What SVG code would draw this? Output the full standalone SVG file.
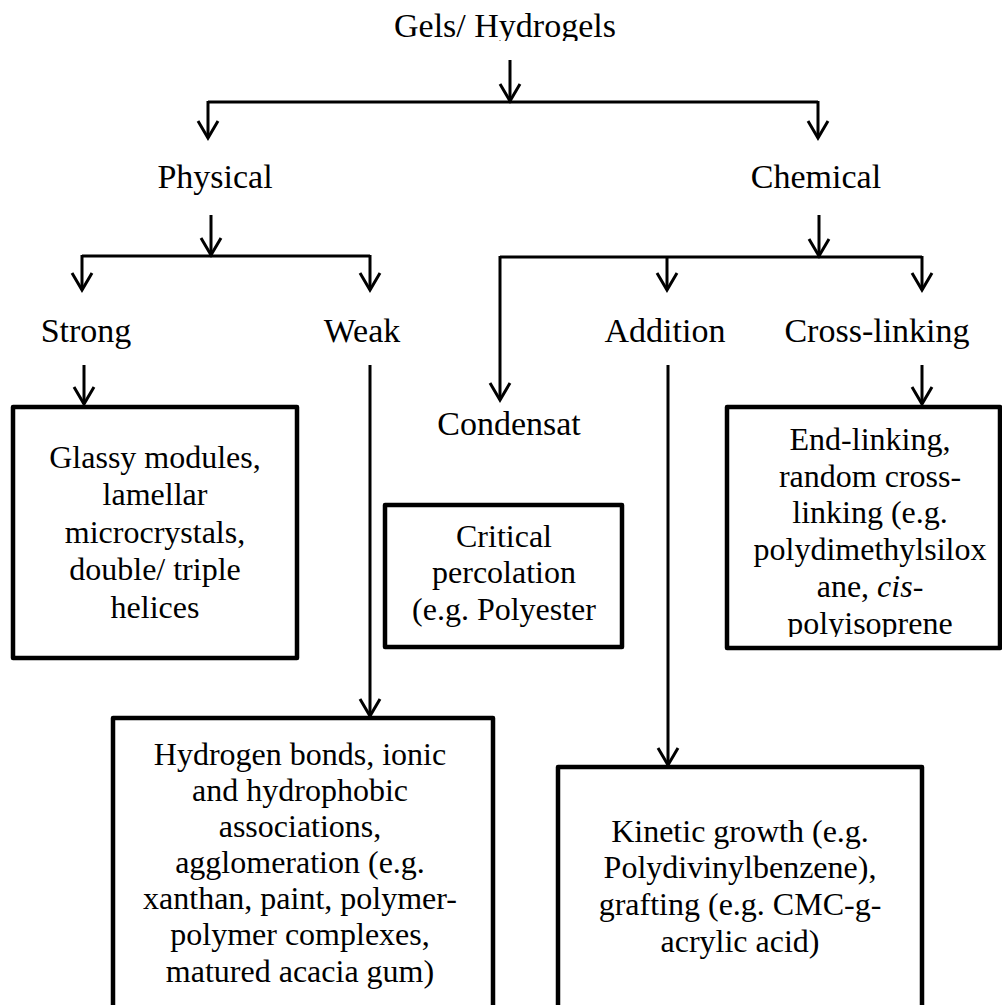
<svg xmlns="http://www.w3.org/2000/svg" width="1002" height="1005" viewBox="0 0 1002 1005">
<style>
text{font-family:"Liberation Serif","Times New Roman",serif;fill:#000;text-anchor:middle}
.lbl{font-size:34px}
.bt{font-size:32px}
.box{fill:#fff;stroke:#000;stroke-width:4.5;stroke-linejoin:round}
.c{fill:none;stroke:#000;stroke-width:3}
.a{marker-end:url(#ah)}
</style>
<defs>
<marker id="ah" markerUnits="userSpaceOnUse" viewBox="-20 -20 40 40" markerWidth="40" markerHeight="40" refX="0" refY="0" orient="auto" overflow="visible">
<path d="M-17,-10 L0,0 L-17,10" fill="none" stroke="#000" stroke-width="3" stroke-linejoin="miter"/>
</marker>
<clipPath id="clipTitle"><rect x="0" y="0" width="1002" height="41"/></clipPath>
<clipPath id="clipCross"><rect x="0" y="0" width="1002" height="637"/></clipPath>
</defs>
<rect width="1002" height="1005" fill="#fff"/>
<g id="connectors">
<path class="c a" d="M510,60 V101"/>
<path class="c" d="M208,102 H818"/>
<path class="c a" d="M208,101 V138"/>
<path class="c a" d="M818,101 V138"/>
<path class="c a" d="M211,215 V255"/>
<path class="c" d="M82,256 H370"/>
<path class="c a" d="M82,255 V290"/>
<path class="c a" d="M370,255 V290"/>
<path class="c a" d="M819,215 V256"/>
<path class="c" d="M500,257 H922"/>
<path class="c a" d="M667,256 V290"/>
<path class="c a" d="M922,256 V290"/>
<path class="c a" d="M500,256 V400"/>
<path class="c a" d="M84,365 V404"/>
<path class="c a" d="M370,365 V716"/>
<path class="c a" d="M668,365 V765"/>
<path class="c a" d="M922,365 V404"/>
</g>
<g id="title"><text class="lbl" x="505" y="37" clip-path="url(#clipTitle)">Gels/ Hydrogels</text></g>
<g id="physical"><text class="lbl" x="215" y="188">Physical</text></g>
<g id="chemical"><text class="lbl" x="816" y="188">Chemical</text></g>
<g id="strong"><text class="lbl" x="86" y="342">Strong</text></g>
<g id="weak"><text class="lbl" x="362" y="342">Weak</text></g>
<g id="addition"><text class="lbl" x="665" y="342">Addition</text></g>
<g id="crosslinking"><text class="lbl" x="877" y="342">Cross-linking</text></g>
<g id="condensat"><text class="lbl" x="509" y="435">Condensat</text></g>
<g id="glassy">
<rect class="box" x="13" y="407" width="284" height="251"/>
<text class="bt" x="155"><tspan x="155" y="468">Glassy modules,</tspan><tspan x="155" y="505">lamellar</tspan><tspan x="155" y="543">microcrystals,</tspan><tspan x="155" y="580">double/ triple</tspan><tspan x="155" y="618">helices</tspan></text>
</g>
<g id="critical">
<rect class="box" x="385" y="505" width="237" height="142"/>
<text class="bt"><tspan x="504" y="547">Critical</tspan><tspan x="504" y="583">percolation</tspan><tspan x="504" y="620">(e.g. Polyester</tspan></text>
</g>
<g id="crossbox">
<rect class="box" x="727" y="407" width="273" height="241"/>
<text class="bt" clip-path="url(#clipCross)"><tspan x="870" y="450">End-linking,</tspan><tspan x="870" y="487">random cross-</tspan><tspan x="870" y="523">linking (e.g.</tspan><tspan x="870" y="560">polydimethylsilox</tspan><tspan x="870" y="597">ane, <tspan font-style="italic">cis</tspan>-</tspan><tspan x="870" y="634">polyisoprene</tspan></text>
</g>
<g id="hydrogen">
<rect class="box" x="113" y="718" width="380" height="300"/>
<text class="bt"><tspan x="300" y="765">Hydrogen bonds, ionic</tspan><tspan x="300" y="801">and hydrophobic</tspan><tspan x="300" y="837">associations,</tspan><tspan x="300" y="873">agglomeration (e.g.</tspan><tspan x="300" y="909">xanthan, paint, polymer-</tspan><tspan x="300" y="945">polymer complexes,</tspan><tspan x="300" y="982">matured acacia gum)</tspan></text>
</g>
<g id="kinetic">
<rect class="box" x="558" y="767" width="364" height="260"/>
<text class="bt"><tspan x="740" y="842">Kinetic growth (e.g.</tspan><tspan x="740" y="878">Polydivinylbenzene),</tspan><tspan x="740" y="915">grafting (e.g. CMC-g-</tspan><tspan x="740" y="952">acrylic acid)</tspan></text>
</g>
</svg>
